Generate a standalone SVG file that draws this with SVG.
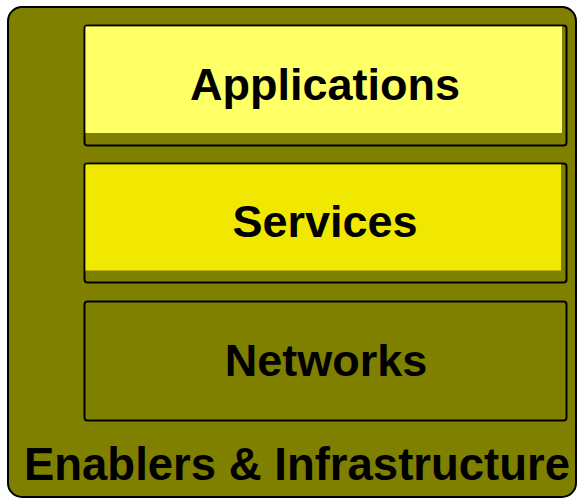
<svg xmlns="http://www.w3.org/2000/svg" width="578" height="499" viewBox="0 0 578 499">
<style>
text{font-family:"Liberation Sans",Arial,sans-serif;font-weight:bold;font-size:45px;fill:#000;text-anchor:middle}
.box{fill:#808000;stroke:#000;stroke-width:2}
</style>
<rect width="578" height="499" fill="#fff"/>
<g id="enablers">
<rect class="box" x="8" y="7" width="568" height="490" rx="14"/>
<text x="297" y="480" style="font-size:45.5px">Enablers &amp; Infrastructure</text>
</g>
<g id="applications">
<rect class="box" x="84.5" y="25.5" width="482" height="120" rx="3"/>
<rect x="85.5" y="26.5" width="476.5" height="106.5" fill="#FFFF66"/>
<text x="325" y="100">Applications</text>
</g>
<g id="services">
<rect class="box" x="84.5" y="163.5" width="482" height="119" rx="3"/>
<rect x="85.5" y="164.5" width="475.5" height="106" fill="#F0E800"/>
<text x="325" y="237">Services</text>
</g>
<g id="networks">
<rect class="box" x="84.5" y="301.5" width="482" height="119" rx="3"/>
<text x="326" y="376">Networks</text>
</g>
<g id="connectors"/>
</svg>
